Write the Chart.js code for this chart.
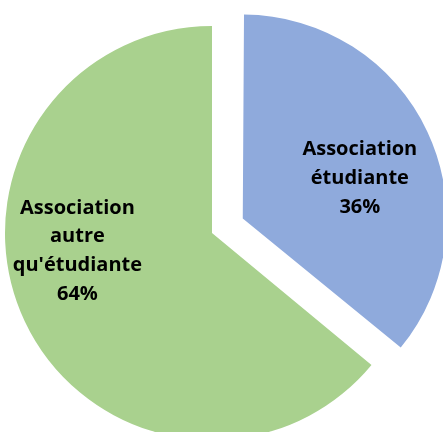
<!DOCTYPE html>
<html>
<head>
<meta charset="utf-8">
<script src="https://cdn.jsdelivr.net/npm/chart.js@4.4.0/dist/chart.umd.min.js"></script>
<style>
  html, body { margin: 0; padding: 0; background: #fff; }
  canvas { display: block; }
</style>
</head>
<body>
<canvas id="myChart" width="443" height="432"></canvas>
<script>
// slice data
const categories = ['Association étudiante', "Association autre qu'étudiante"];
const shares = [36, 64];
const sliceColors = ['#8FAADC', '#A9D18E'];
const sliceOffsets = [136, 0];

// label text, split in lines the way the picture shows them
const labelLines = [
  ['Association', 'étudiante', '36%'],
  ['Association', 'autre', "qu'étudiante", '64%']
];
// where each label sits: angle (deg, clockwise from top) and distance as part of radius
const labelAngles = [71, 262.4];
const labelDist = [0.607, 0.656];

// chart.js grows an exploded slice a bit, pull it back to the pie radius
const keepRadius = {
  id: 'keepRadius',
  beforeDatasetsDraw(chart) {
    const meta = chart.getDatasetMeta(0);
    const base = meta.controller.outerRadius;
    meta.data.forEach((arc, i) => {
      const off = (sliceOffsets[i] || 0) / 4;
      if (!off) return;
      const fix = 1 - Math.sin(Math.min(Math.PI, arc.circumference));
      arc.outerRadius = base - off * fix - 3;
    });
  }
};

// draws the data labels on top of each slice
const sliceLabels = {
  id: 'sliceLabels',
  afterDatasetsDraw(chart) {
    const ctx = chart.ctx;
    const meta = chart.getDatasetMeta(0);
    const base = meta.controller.outerRadius;
    ctx.save();
    ctx.font = 'bold 20px "Open Sans"';
    ctx.fillStyle = '#000';
    ctx.textAlign = 'center';
    ctx.textBaseline = 'middle';
    meta.data.forEach((arc, i) => {
      const mid = (arc.startAngle + arc.endAngle) / 2;
      const shift = (sliceOffsets[i] || 0) / 4;
      const cx = arc.x + Math.cos(mid) * shift;
      const cy = arc.y + Math.sin(mid) * shift;
      const a = labelAngles[i] * Math.PI / 180;
      const r = (shift ? base - 3 : base) * labelDist[i];
      const lx = cx + Math.sin(a) * r;
      const ly = cy - Math.cos(a) * r;
      const lines = labelLines[i];
      const lh = 28.7;
      lines.forEach((t, k) => {
        ctx.fillText(t, lx, ly + (k - (lines.length - 1) / 2) * lh);
      });
    });
    ctx.restore();
  }
};

document.addEventListener('DOMContentLoaded', function() {
  const ctx = document.getElementById('myChart').getContext('2d');

  new Chart(ctx, {
    type: 'pie',
    data: {
      labels: categories,
      datasets: [{
        data: shares,
        backgroundColor: sliceColors,
        borderWidth: 0,
        offset: sliceOffsets,
        radius: 207,
        clip: false
      }]
    },
    options: {
      responsive: false,
      animation: false,
      layout: { padding: { left: 0, right: 19, top: 34, bottom: 0 } },
      plugins: {
        legend: { display: false },
        tooltip: { enabled: false }
      }
    },
    plugins: [keepRadius, sliceLabels]
  });
});
</script>
</body>
</html>
